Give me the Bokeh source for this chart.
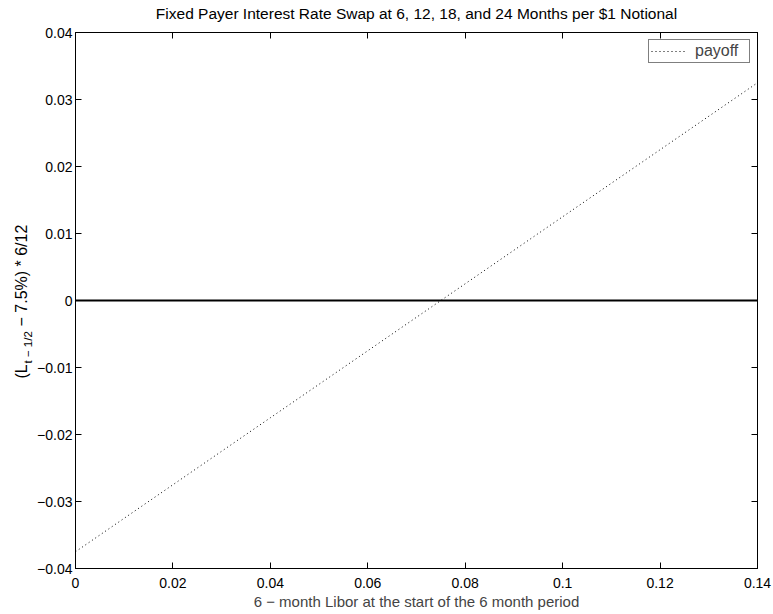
from bokeh.plotting import figure
from bokeh.layouts import row, column
from bokeh.models import (LinearAxis, FixedTicker, Span, Label, Range1d, Legend, LegendItem)
from bokeh.embed import file_html
from bokeh.resources import INLINE
import math

# ---- data ----
libor = [0.00, 0.02, 0.04, 0.06, 0.08, 0.10, 0.12, 0.14]
payoff = [-0.0375, -0.0275, -0.0175, -0.0075, 0.0025, 0.0125, 0.0225, 0.0325]
zero_level = 0.0

x_ticks = [0.0, 0.02, 0.04, 0.06, 0.08, 0.10, 0.12, 0.14]
x_tick_labels = ["0", "0.02", "0.04", "0.06", "0.08", "0.1", "0.12", "0.14"]
y_ticks = [-0.04, -0.03, -0.02, -0.01, 0.0, 0.01, 0.02, 0.03, 0.04]
y_tick_labels = ["\u22120.04", "\u22120.03", "\u22120.02", "\u22120.01", "0",
                 "0.01", "0.02", "0.03", "0.04"]

title_text = "Fixed Payer Interest Rate Swap at 6, 12, 18, and 24 Months per $1 Notional"
x_label = "6 \u2212 month Libor at the start of the 6 month period"
y_label_parts = ["(L", "t \u2212 1/2", " \u2212 7.5%) * 6/12"]
legend_label = "payoff"

FONT = "Liberation Sans"
TICK_FS = "14px"
LAB_FS = "15px"
TITLE_FS = "15.5px"

W, H = 773, 614
STRIP_W = 34
TITLE_H = 26
BODY_H = H - TITLE_H


def blank_strip(w, h):
    f = figure(width=w, height=h, output_backend="svg", toolbar_location=None,
               x_range=Range1d(0, 1), y_range=Range1d(0, 1),
               x_axis_type=None, y_axis_type=None, min_border=0)
    f.outline_line_color = None
    f.background_fill_color = "white"
    f.border_fill_color = "white"
    f.xgrid.visible = False
    f.ygrid.visible = False
    return f


p = figure(width=W - STRIP_W, height=BODY_H, output_backend="svg", toolbar_location=None,
           x_range=Range1d(0, 0.14), y_range=Range1d(-0.04, 0.04),
           min_border_left=75 - STRIP_W, min_border_right=16, min_border_top=32 - TITLE_H,
           min_border_bottom=46)
p.background_fill_color = "white"
p.border_fill_color = "white"
p.outline_line_color = "black"
p.outline_line_width = 1
p.xgrid.visible = False
p.ygrid.visible = False


def style_axis(ax, ticks, labels, show_labels=True):
    ax.ticker = FixedTicker(ticks=ticks)
    if show_labels:
        ax.major_label_overrides = {t: l for t, l in zip(ticks, labels)}
    else:
        ax.major_label_overrides = {t: "" for t in ticks}
    ax.axis_line_color = "black"
    ax.major_tick_line_color = "black"
    ax.major_tick_in = 6
    ax.major_tick_out = 0
    ax.minor_tick_line_color = None
    ax.major_label_text_font = FONT
    ax.major_label_text_font_size = TICK_FS if show_labels else "1px"
    ax.major_label_text_color = "black"
    if not show_labels:
        ax.major_label_standoff = 0


xa = p.xaxis[0]
style_axis(xa, x_ticks, x_tick_labels)
xa.major_label_standoff = 9
xa.axis_label = x_label
xa.axis_label_text_font = FONT
xa.axis_label_text_font_size = LAB_FS
xa.axis_label_text_font_style = "normal"
xa.axis_label_standoff = 2

ya = p.yaxis[0]
style_axis(ya, y_ticks, y_tick_labels)
ya.major_label_standoff = 3

top_ax = LinearAxis()
style_axis(top_ax, x_ticks, x_tick_labels, show_labels=False)
p.add_layout(top_ax, "above")
right_ax = LinearAxis()
style_axis(right_ax, y_ticks, y_tick_labels, show_labels=False)
p.add_layout(right_ax, "right")

# zero line
p.add_layout(Span(location=zero_level, dimension="width", line_color="black", line_width=2))

# payoff line
r = p.line(libor, payoff, line_color="black", line_width=1, line_dash="1 3")

legend = Legend(items=[LegendItem(label=legend_label, renderers=[r])],
                location="top_right", margin=7, padding=2, spacing=0,
                label_text_font=FONT, label_text_font_size="16px",
                border_line_color="black", border_line_width=1,
                background_fill_color="white", background_fill_alpha=1,
                glyph_width=36, glyph_height=14, label_standoff=8, label_height=14,
                label_width=52)
p.add_layout(legend)

# ---- title strip across the top ----
t = blank_strip(W, TITLE_H)
t.add_layout(Label(x=416, y=TITLE_H - 13, x_units="screen", y_units="screen",
                   text=title_text, text_align="center", text_baseline="middle",
                   text_font=FONT, text_font_size=TITLE_FS, text_color="black"))

# ---- strip on the left holding the rotated y label (with subscript) ----
# (its frame is aligned with the main plot frame, so y is measured from the frame bottom)
s = blank_strip(STRIP_W, BODY_H)
ypos = [190, 205, 242]
xoff = [20.5, 27, 20.5]
sizes = ["16px", "11.5px", "16px"]
for txt, yy, xx, fs in zip(y_label_parts, ypos, xoff, sizes):
    s.add_layout(Label(x=xx, y=yy, x_units="screen", y_units="screen", text=txt,
                       angle=math.pi / 2, text_align="left", text_baseline="middle",
                       text_font=FONT, text_font_size=fs, text_color="black"))

layout = column(t, row(s, p, spacing=0), spacing=0)
open("out.html", "w").write(file_html(layout, INLINE))
